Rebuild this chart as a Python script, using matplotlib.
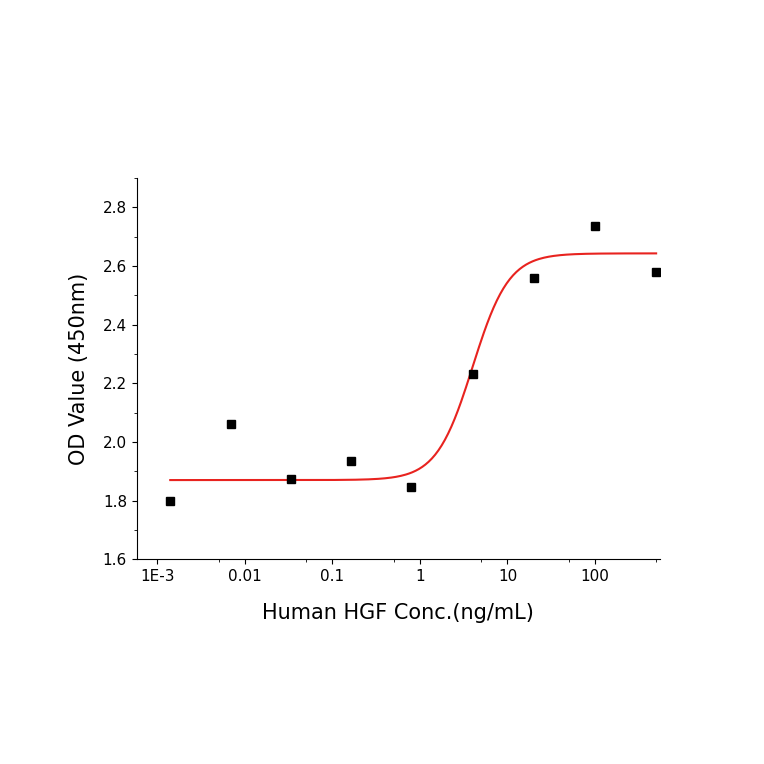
import numpy as np
import matplotlib.pyplot as plt
from matplotlib.ticker import FixedLocator, FixedFormatter, LogLocator, MultipleLocator

# measured points
conc = [0.0014, 0.0069, 0.034, 0.165, 0.8, 4, 20, 100, 500]
od = [1.80, 2.06, 1.875, 1.935, 1.845, 2.23, 2.56, 2.735, 2.58]

# 4PL fit parameters
bottom, top, ec50, hill = 1.87, 2.643, 4.0, 2.1

fig = plt.figure(figsize=(7.64, 7.64), dpi=100)
ax = fig.add_axes([0.179, 0.268, 0.685, 0.499])

xf = np.logspace(np.log10(conc[0]), np.log10(conc[-1]), 300)
yf = bottom + (top - bottom) / (1 + (ec50 / xf) ** hill)
ax.plot(xf, yf, color='#e8231f', lw=1.5)
ax.plot(conc, od, 's', color='black', ms=6)

ax.set_xscale('log')
ax.set_xlim(0.00058, 555)
ax.set_ylim(1.6, 2.9)
ticks = [0.001, 0.01, 0.1, 1, 10, 100]
ax.xaxis.set_major_locator(FixedLocator(ticks))
ax.xaxis.set_major_formatter(FixedFormatter(['1E-3', '0.01', '0.1', '1', '10', '100']))
ax.xaxis.set_minor_locator(LogLocator(base=10, subs=[5]))
ax.xaxis.set_minor_formatter(FixedFormatter([]))
ax.yaxis.set_major_locator(MultipleLocator(0.2))
ax.yaxis.set_minor_locator(MultipleLocator(0.1))
ax.yaxis.set_major_formatter(plt.FuncFormatter(lambda v, p: f'{v:.1f}'))

for s in ['top', 'right']:
    ax.spines[s].set_visible(False)
ax.tick_params(labelsize=11, direction='out')
ax.set_xlabel('Human HGF Conc.(ng/mL)', fontsize=15, labelpad=14)
ax.set_ylabel('OD Value (450nm)', fontsize=15, labelpad=10)

fig.savefig('out.png')
